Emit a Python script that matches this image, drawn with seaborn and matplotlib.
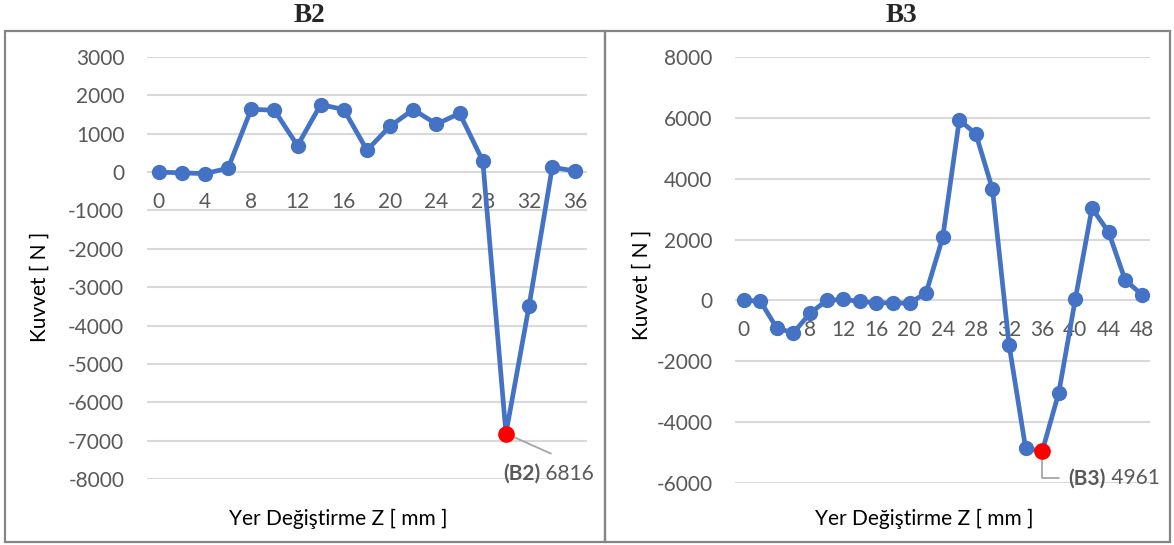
import numpy as np
import matplotlib
matplotlib.use("Agg")
import matplotlib.pyplot as plt
from matplotlib.patches import Rectangle
import seaborn as sns

# Displacement Z [mm] and force [N] for specimen B2
z_b2 = [0, 2, 4, 6, 8, 10, 12, 14, 16, 18, 20, 22, 24, 26, 28, 30, 32, 34, 36]
f_b2 = [0, -20, -40, 100, 1640, 1610, 690, 1760, 1630, 570, 1200, 1630, 1250,
        1530, 290, -6816, -3480, 125, 27]

# Displacement Z [mm] and force [N] for specimen B3
z_b3 = [0, 2, 4, 6, 8, 10, 12, 14, 16, 18, 20, 22, 24, 26, 28, 30, 32, 34, 36,
        38, 40, 42, 44, 46, 48]
f_b3 = [0, -20, -914, -1063, -423, 0, 34, -34, -80, -80, -91, 251, 2069, 5931,
        5474, 3657, -1451, -4857, -4961, -3029, 57, 3029, 2251, 674, 194]

titles = ["B2", "B3"]
y_ticks_b2 = list(range(-8000, 3001, 1000))
y_ticks_b3 = list(range(-6000, 8001, 2000))
x_title = "Yer Değiştirme Z [ mm ]"
y_title = "Kuvvet [ N ]"

W, H, DPI = 1174, 545, 100
LINE = "#4472C4"
GRID = "#D9D9D9"
TICK = "#595959"
FONT = "Lato"

sns.set_theme(style="white")
plt.rcParams["font.family"] = [FONT, "DejaVu Sans"]

fig = plt.figure(figsize=(W / DPI, H / DPI), dpi=DPI)


def px_axes(x0, x1, y0, y1):
    return fig.add_axes([x0 / W, 1 - y1 / H, (x1 - x0) / W, (y1 - y0) / H])


def draw_panel(ax, z, f, yticks, name, ylab_xy, xlab_xy, leader, text_off, elbow):
    n = len(z)
    pos = np.arange(n)
    sns.lineplot(x=pos, y=f, ax=ax, color=LINE, linewidth=3.4, marker="o",
                 markersize=11, markeredgewidth=0, markerfacecolor=LINE,
                 zorder=3)
    k = int(np.argmin(f))
    ax.plot(pos[k], f[k], "o", color="#FF0000", markersize=12,
            markeredgewidth=0, zorder=4)

    ax.set_xlim(-0.5, n - 0.5)
    ax.set_ylim(yticks[0], yticks[-1])
    ax.set_yticks(yticks)
    ax.set_yticklabels([str(v) for v in yticks])
    ax.set_xticks(pos[::2])
    ax.set_xticklabels([str(v) for v in z[::2]])
    ax.set_axisbelow(True)
    ax.grid(axis="y", color=GRID, linewidth=1.5)
    ax.grid(axis="x", visible=False)
    for side in ["top", "right", "left"]:
        ax.spines[side].set_visible(False)
    ax.spines["bottom"].set_position(("data", 0))
    ax.spines["bottom"].set_visible(False)
    ax.tick_params(axis="y", length=0, pad=16.3, labelsize=15, labelcolor=TICK)
    ax.tick_params(axis="x", length=0, pad=14, labelsize=15, labelcolor=TICK)
    ax.set_xlabel("")
    ax.set_ylabel("")
    ax.patch.set_alpha(0)

    ax.text(ylab_xy[0], ylab_xy[1], y_title, transform=ax.transAxes,
            rotation=90, ha="center", va="center", fontsize=15, color="#000000")
    ax.text(xlab_xy[0], xlab_xy[1], x_title, transform=ax.transAxes,
            ha="center", va="center", fontsize=15, color="#000000")

    # data label for the minimum, with a leader line
    if elbow:
        conn = "angle,angleA=0,angleB=90,rad=0"
    else:
        conn = "arc3,rad=0"
    ax.annotate("", xy=(pos[k], f[k]), xytext=leader, textcoords="offset pixels",
                arrowprops=dict(arrowstyle="-", color="#A6A6A6", lw=1.3,
                                shrinkA=0, shrinkB=0, connectionstyle=conn),
                zorder=2.5)
    t1 = ax.annotate(f"({name})", xy=(pos[k], f[k]), xytext=text_off,
                     textcoords="offset pixels", ha="left", va="center",
                     fontsize=15, fontweight="bold", color=TICK,
                     annotation_clip=False)
    ax.annotate(f" {abs(f[k])}", xy=(1, 0.5), xycoords=t1, ha="left",
                va="center", fontsize=15, color=TICK, annotation_clip=False)


ax1 = px_axes(147, 587, 57, 479)
draw_panel(ax1, z_b2, f_b2, y_ticks_b2, titles[0],
           ylab_xy=(-0.243, 0.455), xlab_xy=(0.434, -0.0948),
           leader=(45, -20), text_off=(-3, -40), elbow=False)

ax2 = px_axes(735.4, 1150, 57, 483)
draw_panel(ax2, z_b3, f_b3, y_ticks_b3, titles[1],
           ylab_xy=(-0.225, 0.465), xlab_xy=(0.455, -0.0845),
           leader=(17, -27), text_off=(26, -27), elbow=True)

# panel titles
fig.text(309 / W, 1 - 15 / H, titles[0], ha="center", va="center",
         fontsize=19.5, fontweight="bold", family="Liberation Serif")
fig.text(901 / W, 1 - 15 / H, titles[1], ha="center", va="center",
         fontsize=19.5, fontweight="bold", family="Liberation Serif")

# chart frames
for x0, x1 in [(5, 605), (605, 1170)]:
    fig.add_artist(Rectangle((x0 / W, 1 - 542 / H), (x1 - x0) / W, (542 - 31) / H,
                             transform=fig.transFigure, fill=False,
                             edgecolor="#858585", linewidth=1.6))

fig.savefig("out.png", dpi=DPI, facecolor="white")
